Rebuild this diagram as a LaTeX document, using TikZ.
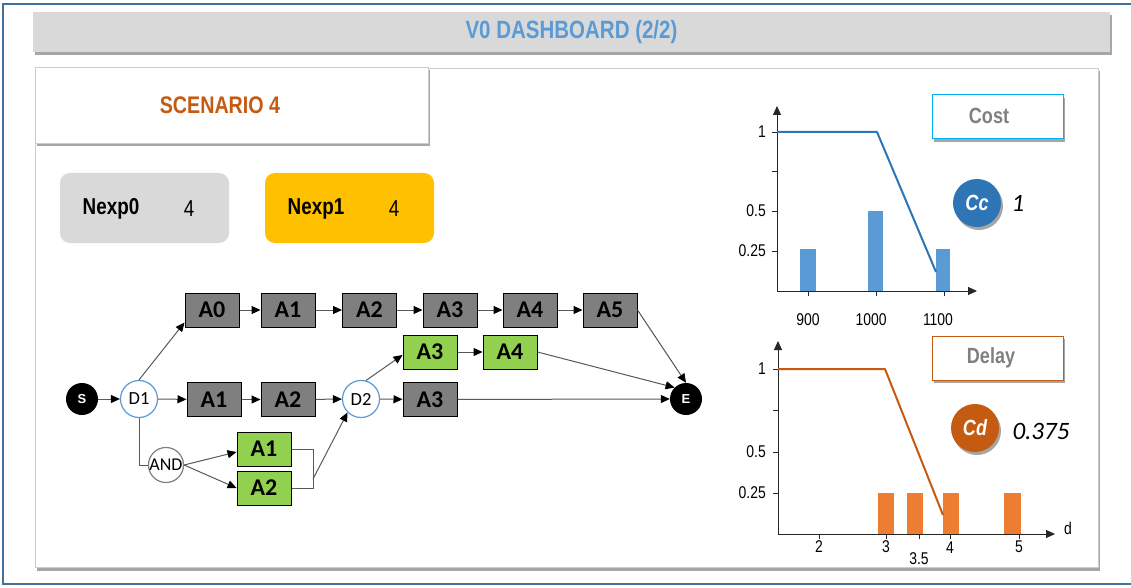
\documentclass[tikz,border=0pt]{standalone}
\usepackage{fontspec}
\setmainfont{Liberation Sans}
\newfontfamily\narrowf[FakeStretch=0.82]{Liberation Sans}
\newfontfamily\calf{Carlito}
\usetikzlibrary{arrows.meta,shadows}
\definecolor{frameblue}{HTML}{41719C}
\definecolor{titleblue}{HTML}{5B9BD5}
\definecolor{titlegray}{HTML}{D9D9D9}
\definecolor{scenorange}{HTML}{C55A11}
\definecolor{nexpyellow}{HTML}{FFC000}
\definecolor{actgray}{HTML}{7F7F7F}
\definecolor{actgreen}{HTML}{92D050}
\definecolor{costline}{HTML}{2E75B6}
\definecolor{costbar}{HTML}{5B9BD5}
\definecolor{delayline}{HTML}{C55A11}
\definecolor{delaybar}{HTML}{ED7D31}
\definecolor{costframe}{HTML}{00B0F0}
\definecolor{linegray}{HTML}{595959}
\definecolor{labgray}{HTML}{808080}
\begin{document}
\begin{tikzpicture}[x=1pt,y=-1pt,
  shad/.style={drop shadow={shadow xshift=2pt,shadow yshift=-3pt,opacity=0.35,fill=black}},
  act/.style={draw=black,line width=1pt,minimum width=54pt,minimum height=34pt,inner sep=0pt,font=\calf\bfseries\fontsize{24}{24}\selectfont},
  pact/.style={act,fill=actgray},
  gact/.style={act,fill=actgreen},
  dec/.style={circle,draw=titleblue,line width=1.2pt,fill=white,minimum size=37pt,inner sep=0pt,font=\calf\fontsize{18.5}{18.5}\selectfont},
  andg/.style={circle,draw=labgray,line width=1.2pt,fill=white,minimum size=35pt,inner sep=0pt,font=\calf\fontsize{18}{18}\selectfont},
  term/.style={circle,fill=black,minimum size=32pt,inner sep=0pt,text=white,font=\bfseries\fontsize{13}{13}\selectfont},
  conn/.style={draw=linegray,line width=1pt,-{Triangle[length=9pt,width=8pt,color=black]}},
  jline/.style={draw=linegray,line width=1pt},
  axarr/.style={draw=black!85,line width=1pt,-{Triangle[length=9pt,width=8pt]}},
  tk/.style={draw=black!85,line width=0.8pt},
  axlab/.style={font=\narrowf\fontsize{17}{17}\selectfont,inner sep=0pt},
  nexptxt/.style={font=\narrowf\bfseries\fontsize{23}{23}\selectfont,inner sep=0pt},
  nexpval/.style={font=\narrowf\fontsize{23}{23}\selectfont,inner sep=0pt},
  legbox/.style={line width=1pt,fill=white,minimum width=131pt,minimum height=44pt,inner sep=0pt,shad},
  legtxt/.style={font=\narrowf\bfseries\fontsize{22}{22}\selectfont,text=labgray,inner sep=0pt},
  badge/.style={circle,minimum size=48pt,inner sep=0pt,shad,text=white,font=\narrowf\bfseries\itshape\fontsize{22}{22}\selectfont},
  badgeval/.style={font=\calf\itshape\fontsize{25}{25}\selectfont,inner sep=0pt}
]
\useasboundingbox (0,0) rectangle (1131,588);
\fill[white] (0,0) rectangle (1131,588);
\draw[frameblue,line width=1.5pt] (3,4) rectangle (1140,584);

% title
\node[fill=titlegray,minimum width=1077pt,minimum height=40pt,inner sep=0pt,shad,
      font=\narrowf\bfseries\fontsize{25}{25}\selectfont,text=titleblue] (title) at (571.5,32) {V0 DASHBOARD (2/2)};

% main panel
\node[draw=black!20,fill=white,minimum width=1063pt,minimum height=499pt,inner sep=0pt,shad] (panel) at (566.5,318) {};

% scenario
\node[draw=black!20,fill=white,minimum width=393pt,minimum height=76pt,inner sep=0pt,shad] (scen) at (231.5,105) {};
\node[font=\narrowf\bfseries\fontsize{24}{24}\selectfont,text=scenorange,inner sep=0pt] (scentxt) at (220,105) {SCENARIO 4};

% Nexp
\node[rounded corners=10pt,fill=titlegray,minimum width=169pt,minimum height=70pt] (n0) at (144.5,208) {};
\node[nexptxt] (n0t) at (111,209) {Nexp0};
\node[nexpval] (n0v) at (189,209) {4};
\node[rounded corners=10pt,fill=nexpyellow,minimum width=169pt,minimum height=70pt] (n1) at (349.5,208) {};
\node[nexptxt] (n1t) at (316,209) {Nexp1};
\node[nexpval] (n1v) at (394,209) {4};

% graph nodes
\node[term] (S) at (82,399) {S};
\node[dec] (D1) at (139,399) {D1};
\node[andg] (AND) at (166,465) {AND};
\node[dec] (D2) at (361,399) {D2};
\node[term] (E) at (686,399) {E};

\node[pact] (A0) at (212,310) {A0};
\node[pact] (A1t) at (288,310) {A1};
\node[pact] (A2t) at (369.5,310) {A2};
\node[pact] (A3t) at (450,310) {A3};
\node[pact] (A4t) at (530,310) {A4};
\node[pact] (A5t) at (610,310) {A5};

\node[pact] (A1m) at (214,399.5) {A1};
\node[pact] (A2m) at (288,399.5) {A2};
\node[pact] (A3m) at (430,399.5) {A3};

\node[gact] (gA3) at (430,352) {A3};
\node[gact] (gA4) at (510,352) {A4};
\node[gact] (gA1) at (264,449) {A1};
\node[gact] (gA2) at (264,488) {A2};

\coordinate (jtop) at (313,449);
\coordinate (jbot) at (313,488);
\coordinate (jout) at (313,479);

% connectors
\draw[conn] (S) -- (D1);
\draw[conn] (D1) -- (A1m);
\draw[conn] (A1m) -- (A2m);
\draw[conn] (A2m) -- (D2);
\draw[conn] (D2) -- (A3m);
\draw[conn] (A3m) -- (E.west);
\draw[conn] (D1.north) -- ([yshift=5pt]A0.south west);
\draw[conn] (A0) -- (A1t);
\draw[conn] (A1t) -- (A2t);
\draw[conn] (A2t) -- (A3t);
\draw[conn] (A3t) -- (A4t);
\draw[conn] (A4t) -- (A5t);
\draw[conn] (A5t.east) -- (E.north);
\draw[conn] (D2.75) -- ([yshift=-3pt]gA3.west);
\draw[conn] (gA3) -- (gA4);
\draw[conn] (gA4.east) -- (E.north west);
\draw[jline] (D1.south) |- (AND.west);
\draw[conn] (AND.east) -- ([yshift=-3pt]gA1.west);
\draw[conn] (AND.east) -- (gA2.west);
\draw[jline] (gA1.east) -- (jtop) -- (jbot) -- (gA2.east);
\draw[conn] (jout) -- (D2.south west);

% cost chart
\fill[costbar] (800,249) rectangle (816,291);
\fill[costbar] (868,211) rectangle (883,291);
\fill[costbar] (936,249) rectangle (950,291);
\draw[axarr] (777,291) -- (777,106);
\draw[axarr] (777,291) -- (977,291);
\foreach \yy in {132,171,211,251} \draw[tk] (772,\yy) -- (777,\yy);
\foreach \xx in {808,876,944} \draw[tk] (\xx,291) -- (\xx,296);
\draw[costline,line width=2pt,line join=round] (777,132) -- (877,132) -- (936,272);
\node[axlab,anchor=east] (cy1) at (766,132) {1};
\node[axlab,anchor=east] (cy2) at (766,211) {0.5};
\node[axlab,anchor=east] (cy3) at (766,251) {0.25};
\node[axlab] (cx1) at (808,320) {900};
\node[axlab] (cx2) at (871,320) {1000};
\node[axlab] (cx3) at (938,320) {1100};
\node[legbox,draw=costframe] (costbox) at (997.5,117) {};
\node[legtxt] (costtxt) at (989,116) {Cost};
\node[badge,fill=costline] (cc) at (977,203) {Cc};
\node[badgeval] (ccv) at (1018,203) {1};

% delay chart
\fill[delaybar] (878,493) rectangle (894,534);
\fill[delaybar] (907,493) rectangle (923,534);
\fill[delaybar] (943,493) rectangle (959,534);
\fill[delaybar] (1004,493) rectangle (1021,534);
\draw[axarr] (778,534) -- (778,341);
\draw[axarr] (778,534) -- (1055,534);
\foreach \yy in {369,410,452,493} \draw[tk] (773,\yy) -- (778,\yy);
\foreach \xx in {819,886,919,950,1019} \draw[tk] (\xx,534) -- (\xx,539);
\draw[delayline,line width=2pt,line join=round] (778,369) -- (885,369) -- (943,515);
\node[axlab,anchor=east] (dy1) at (766,369) {1};
\node[axlab,anchor=east] (dy2) at (766,452) {0.5};
\node[axlab,anchor=east] (dy3) at (766,493) {0.25};
\node[axlab] (dx2) at (819,547) {2};
\node[axlab] (dx3) at (886,547) {3};
\node[axlab] (dx35) at (919,559) {3.5};
\node[axlab] (dx4) at (950,548) {4};
\node[axlab] (dx5) at (1019,547) {5};
\node[axlab] (dlab) at (1068,528) {d};
\node[legbox,draw=delayline] (delaybox) at (997.5,358) {};
\node[legtxt] (delaytxt) at (991,358) {Delay};
\node[badge,fill=delayline] (cd) at (975,428) {Cd};
\node[badgeval] (cdv) at (1041,431) {0.375};
\end{tikzpicture}
\end{document}
